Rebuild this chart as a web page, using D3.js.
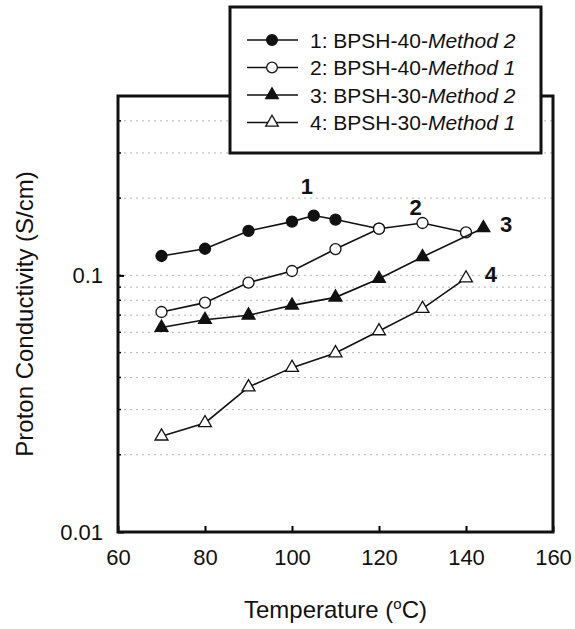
<!DOCTYPE html>
<html>
<head>
<meta charset="utf-8">
<script src="https://cdn.jsdelivr.net/npm/d3@7"></script>
<style>
  body { margin: 0; background: #fff; }
  svg { display: block; font-family: "Liberation Sans", Arial, sans-serif; }
</style>
</head>
<body>
<svg width="575" height="629"></svg>
<script>
// temperatures (°C) and conductivities (S/cm)
const temps1 = [70, 80, 90, 100, 105, 110, 120];
const sigma1 = [0.119, 0.127, 0.149, 0.162, 0.171, 0.165, 0.152];
const temps2 = [70, 80, 90, 100, 110, 120, 130, 140];
const sigma2 = [0.072, 0.0783, 0.0937, 0.104, 0.1266, 0.152, 0.160, 0.147];
const temps3 = [70, 80, 90, 100, 110, 120, 130, 144];
const sigma3 = [0.0626, 0.0672, 0.0699, 0.0764, 0.0821, 0.0971, 0.118, 0.153];
const temps4 = [70, 80, 90, 100, 110, 120, 130, 140];
const sigma4 = [0.0236, 0.0266, 0.0367, 0.0437, 0.0498, 0.0607, 0.0742, 0.0975];

const seriesNames = ['1: BPSH-40-', '2: BPSH-40-', '3: BPSH-30-', '4: BPSH-30-'];
const seriesMethods = ['Method 2', 'Method 1', 'Method 2', 'Method 1'];
const xTicks = [60, 80, 100, 120, 140, 160];
const yTicks = [0.01, 0.1];
// curve number labels, placed in data units
const labelText = ['1', '2', '3', '4'];
const labelTemp = [103.4, 128.4, 149.2, 145.7];
const labelSigma = [0.222, 0.184, 0.159, 0.101];

const series = [
  { t: temps1, s: sigma1, shape: d3.symbolCircle, filled: true },
  { t: temps2, s: sigma2, shape: d3.symbolCircle, filled: false },
  { t: temps3, s: sigma3, shape: d3.symbolTriangle, filled: true },
  { t: temps4, s: sigma4, shape: d3.symbolTriangle, filled: false },
];

const plotLeft = 118, plotRight = 553, plotTop = 96, plotBottom = 532;

const x = d3.scaleLinear().domain([60, 160]).range([plotLeft, plotRight]);
const y = d3.scaleLog().domain([0.01, 0.5]).range([plotBottom, plotTop]);

const svg = d3.select('svg');

// dotted grid at the minor log positions
const gridVals = y.ticks().filter(v => v > 0.01 && v < 0.5);
svg.append('g')
  .selectAll('line')
  .data(gridVals)
  .enter()
  .append('line')
  .attr('x1', plotLeft)
  .attr('x2', plotRight)
  .attr('y1', d => y(d))
  .attr('y2', d => y(d))
  .attr('stroke', '#b4b4b4')
  .attr('stroke-width', 1)
  .attr('stroke-dasharray', '2,4');

// minor ticks on the left axis
svg.append('g')
  .selectAll('line')
  .data(gridVals)
  .enter()
  .append('line')
  .attr('x1', plotLeft)
  .attr('x2', plotLeft + 3)
  .attr('y1', d => y(d))
  .attr('y2', d => y(d))
  .attr('stroke', '#000')
  .attr('stroke-width', 1.5);

const xAxis = svg.append('g')
  .attr('transform', `translate(0,${plotBottom})`)
  .call(d3.axisBottom(x).tickValues(xTicks).tickSizeInner(-6).tickSizeOuter(0).tickPadding(17));

const yAxis = svg.append('g')
  .attr('transform', `translate(${plotLeft},0)`)
  .call(d3.axisLeft(y).tickValues(yTicks).tickFormat(d => d === 0.1 ? '0.1' : '0.01')
    .tickSizeInner(-6).tickSizeOuter(0).tickPadding(15));

[xAxis, yAxis].forEach(g => {
  g.select('.domain').remove();
  g.selectAll('line').attr('stroke-width', 2);
  g.selectAll('text').attr('font-size', 22).attr('fill', '#111').attr('font-family', null);
});

// frame
svg.append('rect')
  .attr('x', plotLeft)
  .attr('y', plotTop)
  .attr('width', plotRight - plotLeft)
  .attr('height', plotBottom - plotTop)
  .attr('fill', 'none')
  .attr('stroke', '#111')
  .attr('stroke-width', 3);

const line = d3.line()
  .x(d => x(d[0]))
  .y(d => y(d[1]));

series.forEach(sr => {
  const pts = sr.t.map((t, i) => [t, sr.s[i]]);
  const g = svg.append('g');
  g.append('path')
    .attr('d', line(pts))
    .attr('fill', 'none')
    .attr('stroke', '#111')
    .attr('stroke-width', 1.6);
  g.selectAll('path.mark')
    .data(pts)
    .enter()
    .append('path')
    .attr('class', 'mark')
    .attr('transform', d => `translate(${x(d[0])},${y(d[1])})`)
    .attr('d', d3.symbol(sr.shape, sr.shape === d3.symbolCircle ? 95 : 72))
    .attr('fill', sr.filled ? '#111' : '#fff')
    .attr('stroke', '#111')
    .attr('stroke-width', 1.3);
});

// curve numbers
svg.append('g')
  .selectAll('text')
  .data(labelText)
  .enter()
  .append('text')
  .attr('x', (d, i) => x(labelTemp[i]))
  .attr('y', (d, i) => y(labelSigma[i]))
  .attr('dy', '0.36em')
  .attr('text-anchor', 'middle')
  .attr('font-size', 22)
  .attr('font-weight', 'bold')
  .attr('fill', '#111')
  .text(d => d);

// legend box
const legend = svg.append('g');
legend.append('rect')
  .attr('x', 230)
  .attr('y', 7)
  .attr('width', 311)
  .attr('height', 146)
  .attr('fill', '#fff')
  .attr('stroke', '#111')
  .attr('stroke-width', 3);

const rows = legend.selectAll('g.row')
  .data(series)
  .enter()
  .append('g')
  .attr('class', 'row')
  .attr('transform', (d, i) => `translate(0,${40 + i * 27.5})`);

rows.append('line')
  .attr('x1', 247)
  .attr('x2', 298)
  .attr('stroke', '#111')
  .attr('stroke-width', 1.6);

rows.append('path')
  .attr('transform', 'translate(272,0)')
  .attr('d', d => d3.symbol(d.shape, d.shape === d3.symbolCircle ? 90 : 68)())
  .attr('fill', d => d.filled ? '#111' : '#fff')
  .attr('stroke', '#111')
  .attr('stroke-width', 1.3);

const rowText = rows.append('text')
  .attr('x', 310)
  .attr('dy', '0.36em')
  .attr('font-size', 21)
  .attr('fill', '#111');
rowText.append('tspan').text((d, i) => seriesNames[i]);
rowText.append('tspan').attr('font-style', 'italic').text((d, i) => seriesMethods[i]);

// axis titles
const xTitle = svg.append('text')
  .attr('x', (plotLeft + plotRight) / 2)
  .attr('y', 618)
  .attr('text-anchor', 'middle')
  .attr('font-size', 24)
  .attr('fill', '#111');
xTitle.append('tspan').text('Temperature (');
xTitle.append('tspan').attr('font-size', 15).attr('dy', -9).text('o');
xTitle.append('tspan').attr('dy', 9).text('C)');

svg.append('text')
  .attr('transform', `translate(33,${(plotTop + plotBottom) / 2}) rotate(-90)`)
  .attr('text-anchor', 'middle')
  .attr('font-size', 24)
  .attr('fill', '#111')
  .text('Proton Conductivity (S/cm)');
</script>
</body>
</html>
